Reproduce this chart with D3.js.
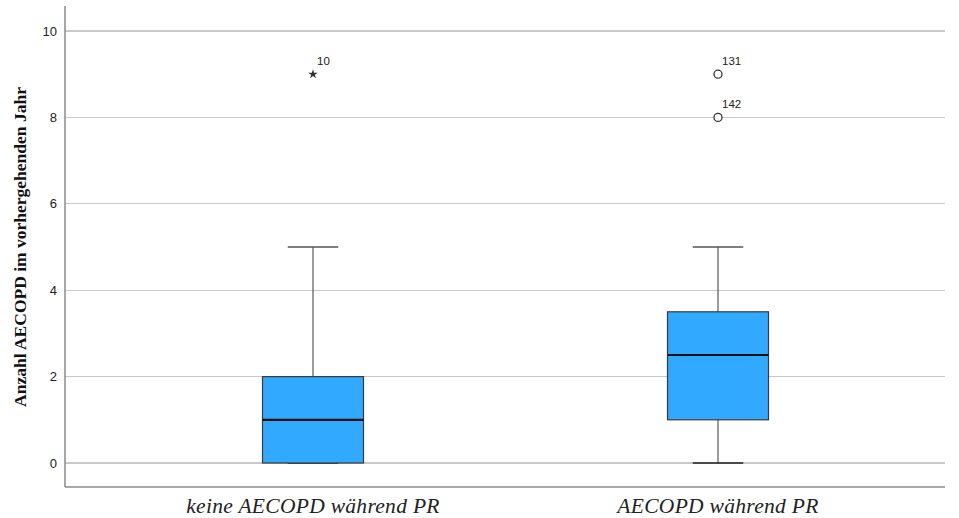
<!DOCTYPE html>
<html><head><meta charset="utf-8">
<script src="https://cdn.jsdelivr.net/npm/d3@7"></script>
<style>body{margin:0;background:#fff}</style>
</head><body>
<svg id="c" width="959" height="518"></svg>
<script>
const categories = ["keine AECOPD während PR", "AECOPD während PR"];
const q1 = [0, 1];
const median = [1, 2.5];
const q3 = [2, 3.5];
const whiskerLow = [0, 0];
const whiskerHigh = [5, 5];
const outliers = [
  {cat: 0, value: 9, label: "10", type: "extreme"},
  {cat: 1, value: 9, label: "131", type: "outlier"},
  {cat: 1, value: 8, label: "142", type: "outlier"}
];
const yTicks = [0, 2, 4, 6, 8, 10];

(function(){
const svg = d3.select("#c");
const mLeft = 65, mRight = 945, mTop = 6, mBottom = 487;
const y = d3.scaleLinear().domain([0, 10]).range([463, 31]);
const xc = d3.scalePoint().domain(categories).range([313, 718]);
const boxW = 101;

svg.append("g").selectAll("line").data(yTicks).join("line")
  .attr("x1", mLeft).attr("x2", mRight).attr("y1", d => y(d)).attr("y2", d => y(d))
  .attr("stroke", "#c8c8c8").attr("stroke-width", 1.3).attr("shape-rendering", "crispEdges");

const yAxis = d3.axisLeft(y).tickValues(yTicks).tickSize(0).tickPadding(8);
const gy = svg.append("g").attr("transform", `translate(${mLeft},0)`).call(yAxis);
gy.select(".domain").remove();
gy.selectAll("text").attr("font-family", "Liberation Sans, Arial, sans-serif").attr("font-size", 13).attr("fill", "#222");
svg.append("line").attr("x1", mLeft).attr("x2", mLeft).attr("y1", mTop).attr("y2", mBottom)
  .attr("stroke", "#8a8a8a").attr("stroke-width", 1.5);
svg.append("line").attr("x1", mLeft).attr("x2", mRight).attr("y1", mBottom).attr("y2", mBottom)
  .attr("stroke", "#8a8a8a").attr("stroke-width", 1.5);

svg.append("g").selectAll("text").data(categories).join("text")
  .attr("x", d => xc(d)).attr("y", 513).attr("text-anchor", "middle")
  .attr("font-family", "Liberation Serif, Times New Roman, serif").attr("font-style", "italic")
  .attr("font-size", 21.5).attr("letter-spacing", 0.3).attr("fill", "#222").text(d => d);

svg.append("text").attr("transform", "translate(26,247) rotate(-90)").attr("text-anchor", "middle")
  .attr("font-family", "Liberation Serif, Times New Roman, serif").attr("font-weight", "bold")
  .attr("font-size", 17.5).attr("fill", "#111").text("Anzahl AECOPD im vorhergehenden Jahr");

const boxes = categories.map((c, i) => ({c, q1: q1[i], med: median[i], q3: q3[i], lo: whiskerLow[i], hi: whiskerHigh[i]}));
const g = svg.append("g");
boxes.forEach(b => {
  const cx = xc(b.c);
  g.append("line").attr("x1", cx).attr("x2", cx).attr("y1", y(b.q3)).attr("y2", y(b.hi)).attr("stroke", "#666").attr("stroke-width", 1.3);
  g.append("line").attr("x1", cx).attr("x2", cx).attr("y1", y(b.q1)).attr("y2", y(b.lo)).attr("stroke", "#666").attr("stroke-width", 1.3);
  g.append("line").attr("x1", cx - boxW/4).attr("x2", cx + boxW/4).attr("y1", y(b.hi)).attr("y2", y(b.hi)).attr("stroke", "#555").attr("stroke-width", 1.3);
  g.append("line").attr("x1", cx - boxW/4).attr("x2", cx + boxW/4).attr("y1", y(b.lo)).attr("y2", y(b.lo)).attr("stroke", "#222").attr("stroke-width", 1.3);
  g.append("rect").attr("x", cx - boxW/2).attr("y", y(b.q3)).attr("width", boxW).attr("height", y(b.q1) - y(b.q3))
    .attr("fill", "#31a9ff").attr("stroke", "#3a3a3a").attr("stroke-width", 1.2);
  g.append("line").attr("x1", cx - boxW/2).attr("x2", cx + boxW/2).attr("y1", y(b.med)).attr("y2", y(b.med)).attr("stroke", "#111").attr("stroke-width", 2.2);
});

const star = d3.symbol().type(d3.symbolStar).size(28);
outliers.forEach(o => {
  const cx = xc(categories[o.cat]);
  if (o.type === "extreme") {
    g.append("path").attr("d", star).attr("transform", `translate(${cx},${y(o.value)})`).attr("fill", "#333");
  } else {
    g.append("circle").attr("cx", cx).attr("cy", y(o.value)).attr("r", 4).attr("fill", "#fff").attr("stroke", "#333").attr("stroke-width", 1.3);
  }
  g.append("text").attr("x", cx + 4).attr("y", y(o.value) - 9)
    .attr("font-family", "Liberation Sans, Arial, sans-serif").attr("font-size", 11.5).attr("fill", "#222").text(o.label);
});
})();
</script>
</body></html>
